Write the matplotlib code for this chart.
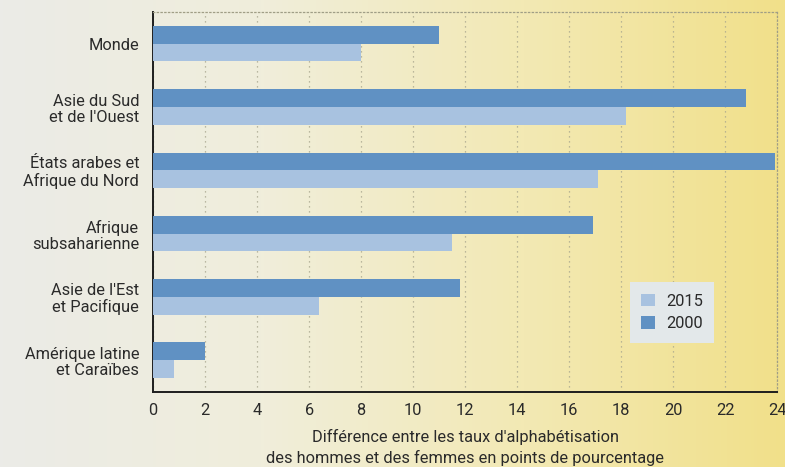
import numpy as np
import matplotlib
matplotlib.use("Agg")
import matplotlib.pyplot as plt
from matplotlib.colors import LinearSegmentedColormap
from matplotlib.patches import Patch

plt.rcParams['font.family'] = ['Roboto', 'DejaVu Sans']

regions = ["Monde", "Asie du Sud\net de l'Ouest", "États arabes et\nAfrique du Nord",
           "Afrique\nsubsaharienne", "Asie de l'Est\net Pacifique", "Amérique latine\net Caraïbes"]
gap_2000 = [11.0, 22.8, 23.9, 16.9, 11.8, 2.0]
gap_2015 = [8.0, 18.2, 17.1, 11.5, 6.4, 0.8]
xticks = [0, 2, 4, 6, 8, 10, 12, 14, 16, 18, 20, 22, 24]

col_2000 = "#6091c3"
col_2015 = "#a8c2e0"
text_col = "#2a2a2a"
fs = 11.8

fig = plt.figure(figsize=(7.85, 4.67), dpi=100)

# background wash: light grey on the left fading to yellow on the right
bg = fig.add_axes([0, 0, 1, 1], zorder=-10)
cmap = LinearSegmentedColormap.from_list("wash", ["#ebebe7", "#f0eedb", "#f3e9b4", "#f1e08a"])
grad = np.linspace(0, 1, 256).reshape(1, -1)
bg.imshow(grad, aspect="auto", cmap=cmap, extent=[0, 1, 0, 1])
bg.axis("off")

ax = fig.add_axes([0.195, 0.161, 0.795, 0.813])
ax.set_facecolor("none")

y = np.arange(len(regions))
h = 0.28
ax.barh(y - h / 2, gap_2000, height=h, color=col_2000, zorder=3)
ax.barh(y + h / 2, gap_2015, height=h, color=col_2015, zorder=3)

ax.set_ylim(len(regions) - 0.5, -0.5)
ax.set_xlim(0, 24)
ax.set_yticks(y)
ax.set_yticklabels(regions, fontsize=fs, color=text_col, linespacing=1.12)
ax.set_xticks(xticks)
ax.set_xticklabels([str(t) for t in xticks], fontsize=fs, color=text_col)
ax.tick_params(axis="x", length=0, pad=8)
ax.tick_params(axis="y", length=0, pad=10)

ax.grid(axis="x", linestyle=(0, (1, 3)), color="#a8a68e", linewidth=0.9, zorder=1)
ax.grid(axis="y", visible=False)

for s in ("left", "bottom"):
    ax.spines[s].set_color("#1e1e1e")
    ax.spines[s].set_linewidth(1.4)
for s in ("top", "right"):
    ax.spines[s].set_color("#a09e86")
    ax.spines[s].set_linewidth(0.9)
    ax.spines[s].set_linestyle((0, (1, 2)))

ax.set_xlabel("Différence entre les taux d'alphabétisation\ndes hommes et des femmes en points de pourcentage",
              fontsize=fs, color=text_col, labelpad=8, linespacing=1.35)

handles = [Patch(facecolor=col_2015, label="2015"), Patch(facecolor=col_2000, label="2000")]
leg = ax.legend(handles=handles, loc="upper left", bbox_to_anchor=(0.751, 0.31),
                frameon=True, fancybox=False, fontsize=fs, handlelength=0.8, handleheight=0.8,
                handletextpad=0.7, labelspacing=0.45, borderpad=0.7)
leg.get_frame().set_facecolor("#e3e8ea")
leg.get_frame().set_edgecolor("none")
leg.get_frame().set_alpha(1)
for t in leg.get_texts():
    t.set_color(text_col)

fig.savefig("out.png", dpi=100)
